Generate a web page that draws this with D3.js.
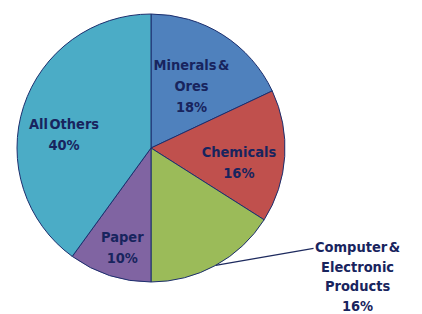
<!DOCTYPE html>
<html lang="en">
  <head>
    <meta charset="UTF-8">
    <title>Pie Chart</title>
    <script src="https://d3js.org/d3.v7.min.js"></script>
    <style>
      body { margin: 0; background: #fff; }
      text { font-family: "Liberation Sans Narrow", "DejaVu Sans Condensed", sans-serif; font-weight: bold; fill: #18245e; }
    </style>
  </head>
  <body>

<script>
  // data
  const categories = ["Minerals & Ores", "Chemicals", "Computer & Electronic Products", "Paper", "All Others"];
  const shares = [18, 16, 16, 10, 40];
  const labelLines = [
    ["Minerals &", "Ores", "18%"],
    ["Chemicals", "16%"],
    ["Computer &", "Electronic", "Products", "16%"],
    ["Paper", "10%"],
    ["All Others", "40%"]
  ];
  const colors = ["#4f81bd", "#c0504d", "#9bbb59", "#8064a2", "#4bacc6"];

  const w = 422;
  const h = 314;
  const cx = 151, cy = 148, r = 134;

  // small nudges from the label centroid, per slice
  const nudge = [[-4, 8], [5, 9], [0, 0], [-3, 20], [-8, 12]];

  const svg = d3.select("body")
                .append("svg")
                .attr("width", w)
                .attr("height", h);

  const pie = d3.pie().sort(null).value(d => d);
  const arcs = pie(shares);

  const arc = d3.arc().innerRadius(0).outerRadius(r);
  const labelArc = d3.arc().innerRadius(r * 0.62).outerRadius(r * 0.62);
  const edgeArc = d3.arc().innerRadius(r).outerRadius(r);

  const g = svg.append("g").attr("transform", `translate(${cx},${cy})`);

  g.selectAll("path")
    .data(arcs)
    .enter()
    .append("path")
    .attr("d", arc)
    .attr("fill", (d, i) => colors[i])
    .attr("stroke", "#1d2f6e")
    .attr("stroke-width", 1);

  arcs.forEach((d, i) => {
    let x, y, lineH = 21;
    if (i === 2) {
      // outside label with a leader line
      const p = edgeArc.centroid(d);
      const end = [p[0] + 98, p[1] - 17];
      g.append("line")
        .attr("x1", p[0]).attr("y1", p[1])
        .attr("x2", end[0]).attr("y2", end[1])
        .attr("stroke", "#1d2a5e").attr("stroke-width", 1.2);
      x = end[0] + 44;
      y = end[1] + 28;
      lineH = 19.5;
    } else {
      const c = labelArc.centroid(d);
      x = c[0] + nudge[i][0];
      y = c[1] + nudge[i][1];
    }
    const lines = labelLines[i];
    const t = g.append("text")
      .attr("text-anchor", "middle")
      .attr("font-size", 14.5)
      .attr("word-spacing", -3);
    lines.forEach((s, k) => {
      t.append("tspan")
        .attr("x", x)
        .attr("y", y + (k - (lines.length - 1) / 2) * lineH + 5)
        .text(s);
    });
  });
</script>

  </body>
</html>
